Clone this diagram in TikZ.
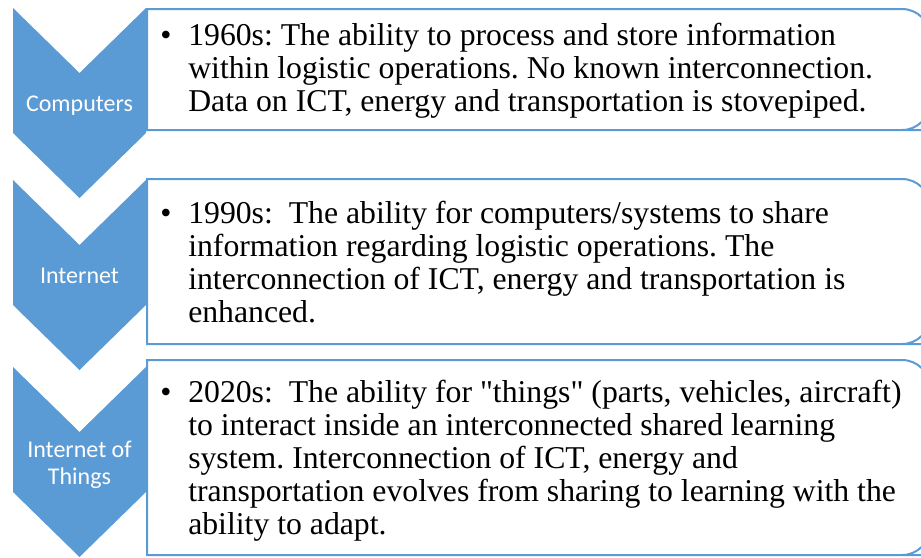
\documentclass[tikz,border=0pt]{standalone}
\usepackage{fontspec}
\setmainfont{Liberation Serif}[Ligatures=TeXOff]
\newfontfamily\labelfont{Carlito}
\definecolor{chev}{HTML}{5B9BD5}
\frenchspacing
\begin{document}
\frenchspacing
\begin{tikzpicture}[x=0.75pt,y=-0.75pt,
  chevron/.style={fill=chev, draw=none},
  textbox/.style={draw=chev, line width=1.5pt},
  lbl/.style={font=\labelfont\fontsize{18}{20.25}\selectfont, text=white, inner sep=0pt, align=center},
  body/.style={font=\fontsize{23.8}{24.75}\selectfont\frenchspacing, inner sep=0pt, align=left, anchor=north west},
  bul/.style={font=\fontsize{23.8}{24.75}\selectfont, inner sep=0pt, anchor=base}]
\useasboundingbox (0,0) rectangle (921,557);
\clip (0,0) rectangle (921,557);

% text boxes
\draw[textbox] (147,9) -- (900,9) [rounded corners=21pt] -- (930,9) -- (930,130) -- (900,130) [sharp corners] -- (147,130) -- cycle;
\draw[textbox] (147,179) -- (900,179) [rounded corners=21pt] -- (930,179) -- (930,344) -- (900,344) [sharp corners] -- (147,344) -- cycle;
\draw[textbox] (147,360) -- (900,360) [rounded corners=21pt] -- (930,360) -- (930,555) -- (900,555) [sharp corners] -- (147,555) -- cycle;

% chevrons
\fill[chevron] (13,8) -- (79.5,73) -- (146,8) -- (146,133) -- (79.5,198) -- (13,133) -- cycle;
\fill[chevron] (13,180) -- (79.5,245) -- (146,180) -- (146,305) -- (79.5,370) -- (13,305) -- cycle;
\fill[chevron] (13,367) -- (79.5,432) -- (146,367) -- (146,492) -- (79.5,557) -- (13,492) -- cycle;

% chevron labels
\node[lbl, anchor=base] (l1) at (79.5,111) {Computers};
\node[lbl, anchor=base] (l2) at (79.5,283) {Internet};
\node[lbl, anchor=north] (l3) at (79.5,438) {\strut Internet of\\Things};

% bullets
\node[bul] (b1) at (166,45) {•};
\node[bul] (b2) at (166,223) {•};
\node[bul] (b3) at (166,402) {•};

% body texts
\node[body] (t1) at (188,21.9) {\strut 1960s: The ability to process and store information\\
within logistic operations. No known interconnection.\\
Data on ICT, energy and transportation is stovepiped.};
\node[body] (t2) at (188,199.9) {\strut 1990s:\ \ The ability for computers/systems to share\\
information regarding logistic operations. The\\
interconnection of ICT, energy and transportation is\\
enhanced.};
\node[body] (t3) at (188,378.9) {\strut 2020s:\ \ The ability for "things" (parts, vehicles, aircraft)\\
to interact inside an interconnected shared learning\\
system. Interconnection of ICT, energy and\\
transportation evolves from sharing to learning with the\\
ability to adapt.};
\end{tikzpicture}
\end{document}
